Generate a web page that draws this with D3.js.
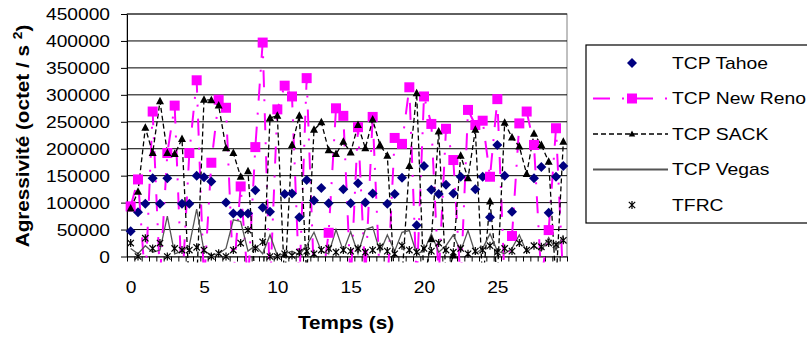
<!DOCTYPE html>
<html>
<head>
<meta charset="utf-8">
<script src="https://cdn.jsdelivr.net/npm/d3@7"></script>
<style>
  body { margin: 0; background: #fff; }
  svg { display: block; }
  text { font-family: "Liberation Sans", Arial, sans-serif; fill: #000; }
</style>
</head>
<body>
<svg id="chart" width="807" height="341"></svg>
<script>
// time categories (s)
const times = [0,0.5,1,1.5,2,2.5,3,3.5,4,4.5,5,5.5,6,6.5,7,7.5,8,8.5,9,9.5,
  10,10.5,11,11.5,12,12.5,13,13.5,14,14.5,15,15.5,16,16.5,17,17.5,18,18.5,19,19.5,
  20,20.5,21,21.5,22,22.5,23,23.5,24,24.5,25,25.5,26,26.5,27,27.5,28,28.5,29,29.5];

const xTickLabels = [0, 5, 10, 15, 20, 25];
const yTicks = [0, 50000, 100000, 150000, 200000, 250000, 300000, 350000, 400000, 450000];

// negative values fall below the axis minimum and are clipped, as in the original
const tahoe = [47000,82000,98000,145000,98000,145000,-30000,98000,98000,150000,
  147000,139000,-20000,100000,80000,80000,80000,123000,91000,83000,
  -30000,116000,117000,73000,142000,104000,127000,99000,-40000,125000,
  99000,136000,100000,117000,-30000,98000,116000,146000,-20000,58000,
  168000,124000,116000,133000,117000,148000,-30000,125000,148000,73000,
  207000,150000,83000,-30000,-40000,145000,166000,81000,148000,168000];

const newReno = [93000,143000,-50000,269000,-40000,192000,280000,-60000,192000,327000,
  -50000,174000,291000,276000,-40000,130000,-50000,203000,397000,-60000,
  273000,317000,297000,-50000,331000,-40000,-60000,44000,275000,261000,
  -50000,240000,-40000,259000,-50000,-60000,220000,209000,314000,-50000,
  297000,246000,-40000,237000,179000,-50000,272000,244000,252000,148000,
  292000,-50000,38000,247000,269000,207000,-40000,49000,238000,-50000];

const sack = [89000,120000,239000,192000,288000,192000,190000,218000,-60000,-50000,
  291000,290000,280000,201000,192000,148000,158000,-50000,-60000,257000,
  261000,-50000,207000,261000,-40000,235000,249000,197000,190000,213000,
  193000,244000,201000,254000,207000,187000,-50000,-40000,168000,303000,
  -50000,32000,232000,-40000,2000,187000,145000,235000,-50000,102000,
  -40000,248000,221000,204000,153000,228000,207000,176000,-50000,213000];

const vegas = [15000,5000,20000,8000,12000,75000,5000,10000,20000,88000,
  10000,3000,5000,15000,68000,65000,10000,20000,5000,40000,
  2000,5000,10000,3000,20000,45000,10000,5000,50000,10000,
  46000,5000,50000,55000,8000,40000,10000,45000,48000,5000,
  10000,42000,8000,20000,40000,10000,48000,5000,15000,42000,
  10000,5000,15000,40000,8000,20000,10000,35000,12000,40000];

const tfrc = [25000,0,34000,15000,25000,0,15000,12000,12000,17000,
  12000,0,6000,0,12000,25000,49000,15000,27000,0,
  0,5000,2000,8000,10000,5000,12000,15000,8000,12000,
  10000,15000,8000,12000,18000,10000,5000,20000,12000,8000,
  15000,10000,25000,12000,8000,15000,5000,10000,12000,20000,
  8000,15000,10000,25000,12000,20000,18000,25000,22000,30000];

const seriesNames = ['TCP Tahoe', 'TCP New Reno', 'TCP SACK', 'TCP Vegas', 'TFRC'];

const svg = d3.select('#chart');
const plot = { left: 127, right: 567, top: 14, bottom: 256.5 };
const SX = 1.2;

const x = d3.scaleLinear().domain([-0.25, 29.75]).range([plot.left, plot.right]);
const y = d3.scaleLinear().domain([0, 450000]).range([plot.bottom, plot.top]);

svg.append('defs').append('clipPath').attr('id', 'clip')
  .append('rect')
  .attr('x', plot.left).attr('y', plot.top)
  .attr('width', plot.right - plot.left).attr('height', plot.bottom - plot.top + 6);

// plot area frame + gridlines
svg.append('rect')
  .attr('x', plot.left).attr('y', plot.top)
  .attr('width', plot.right - plot.left).attr('height', plot.bottom - plot.top)
  .attr('fill', 'none').attr('stroke', '#808080');

svg.append('g').selectAll('line')
  .data(yTicks.filter(d => d > 0))
  .enter().append('line')
  .attr('x1', plot.left).attr('x2', plot.right)
  .attr('y1', d => y(d)).attr('y2', d => y(d))
  .attr('stroke', '#000').attr('stroke-width', 1);

// y axis
const yAxis = svg.append('g')
  .attr('transform', `translate(${plot.left},0)`)
  .call(d3.axisLeft(y).tickValues(yTicks).tickSize(6).tickSizeOuter(0).tickFormat(d3.format('d')));
yAxis.select('.domain').attr('stroke', '#000');
yAxis.selectAll('.tick line').attr('stroke', '#000');
yAxis.selectAll('.tick text')
  .attr('x', -17 / SX).attr('dy', '0.36em')
  .attr('transform', `scale(${SX},1)`)
  .style('font-size', '16px').style('font-family', '"Liberation Sans", Arial, sans-serif');

// x axis: tick marks between categories, labels on categories
const boundaries = times.map(t => t - 0.25).concat([29.75]);
const xTicks = svg.append('g')
  .attr('transform', `translate(0,${plot.bottom})`)
  .call(d3.axisBottom(x).tickValues(boundaries).tickSize(5).tickSizeOuter(0).tickFormat(''));
xTicks.select('.domain').attr('stroke', '#000');
xTicks.selectAll('.tick line').attr('stroke', '#000');

const xLabels = svg.append('g')
  .attr('transform', `translate(0,${plot.bottom})`)
  .call(d3.axisBottom(x).tickValues(xTickLabels).tickSize(0).tickFormat(d3.format('d')));
xLabels.select('.domain').remove();
xLabels.selectAll('.tick text')
  .attr('y', 36.5).attr('dy', 0)
  .attr('transform', `scale(${SX},1)`)
  .style('font-size', '16px').style('font-family', '"Liberation Sans", Arial, sans-serif');

// series lines
const pts = vals => vals.map((v, i) => ({ t: times[i], v }));
const line = d3.line().x(d => x(d.t)).y(d => y(d.v));
const lines = svg.append('g').attr('clip-path', 'url(#clip)');

lines.append('path').datum(pts(newReno))
  .attr('d', line).attr('fill', 'none')
  .attr('stroke', '#ff00ff').attr('stroke-width', 2).attr('stroke-dasharray', '17,12,2,12');
lines.append('path').datum(pts(sack))
  .attr('d', line).attr('fill', 'none')
  .attr('stroke', '#000').attr('stroke-width', 1.3).attr('stroke-dasharray', '5,3');
lines.append('path').datum(pts(vegas))
  .attr('d', line).attr('fill', 'none')
  .attr('stroke', '#555').attr('stroke-width', 1.3);

// markers
const diamond = 'M0,-5L5,0L0,5L-5,0Z';
const square = 'M-5,-5H5V5H-5Z';
const tri = 'M0,-4.5L4,3L-4,3Z';
const star = 'M0,-4V4M-3.2,-3.2L3.2,3.2M-3.2,3.2L3.2,-3.2';

const markers = svg.append('g');
function drawMarkers(vals, d, fill, stroke) {
  markers.append('g').selectAll('path')
    .data(pts(vals).filter(p => p.v >= 0))
    .enter().append('path')
    .attr('transform', p => `translate(${x(p.t)},${y(p.v)})`)
    .attr('d', d)
    .attr('fill', fill)
    .attr('stroke', stroke)
    .attr('stroke-width', stroke === 'none' ? 0 : 1.2);
}
drawMarkers(tahoe, diamond, '#000080', 'none');
drawMarkers(newReno, square, '#ff00ff', 'none');
drawMarkers(sack, tri, '#000', 'none');
drawMarkers(tfrc, star, 'none', '#000');

// axis titles
svg.append('text')
  .attr('transform', `translate(346,329) scale(1.15,1)`)
  .attr('text-anchor', 'middle')
  .style('font-size', '18px').style('font-weight', 'bold')
  .text('Temps (s)');

const yTitle = svg.append('text')
  .attr('transform', `translate(29,136) rotate(-90) scale(1.15,1)`)
  .attr('text-anchor', 'middle')
  .style('font-size', '18px').style('font-weight', 'bold');
yTitle.append('tspan').text('Agressivité (octet / s ');
yTitle.append('tspan').attr('dy', -7).style('font-size', '12px').text('2');
yTitle.append('tspan').attr('dy', 7).text(')');

// legend
const legend = svg.append('g');
legend.append('rect')
  .attr('x', 586).attr('y', 45).attr('width', 240).attr('height', 178)
  .attr('fill', '#fff').attr('stroke', '#000').attr('stroke-width', 1.2);

const rowY = d3.scalePoint().domain(seriesNames).range([63, 205]);
const symX = 632;
seriesNames.forEach(name => {
  const ry = rowY(name);
  const g = legend.append('g');
  if (name === 'TCP New Reno') {
    g.append('line').attr('x1', 593).attr('x2', 668).attr('y1', ry).attr('y2', ry)
      .attr('stroke', '#ff00ff').attr('stroke-width', 2).attr('stroke-dasharray', '17,12,2,12');
    g.append('path').attr('transform', `translate(${symX},${ry})`).attr('d', square).attr('fill', '#ff00ff');
  } else if (name === 'TCP SACK') {
    g.append('line').attr('x1', 593).attr('x2', 668).attr('y1', ry).attr('y2', ry)
      .attr('stroke', '#000').attr('stroke-width', 1.3).attr('stroke-dasharray', '5,3');
    g.append('path').attr('transform', `translate(${symX},${ry}) scale(0.8)`).attr('d', tri).attr('fill', '#000');
  } else if (name === 'TCP Vegas') {
    g.append('line').attr('x1', 593).attr('x2', 668).attr('y1', ry).attr('y2', ry)
      .attr('stroke', '#555').attr('stroke-width', 2);
  } else if (name === 'TCP Tahoe') {
    g.append('path').attr('transform', `translate(${symX},${ry})`).attr('d', diamond).attr('fill', '#000080');
  } else {
    g.append('path').attr('transform', `translate(${symX},${ry})`).attr('d', star)
      .attr('fill', 'none').attr('stroke', '#000').attr('stroke-width', 1.2);
  }
  legend.append('text')
    .attr('transform', `translate(672,${ry}) scale(1.21,1)`)
    .attr('dy', '0.36em')
    .style('font-size', '16px')
    .text(name);
});
</script>
</body>
</html>
